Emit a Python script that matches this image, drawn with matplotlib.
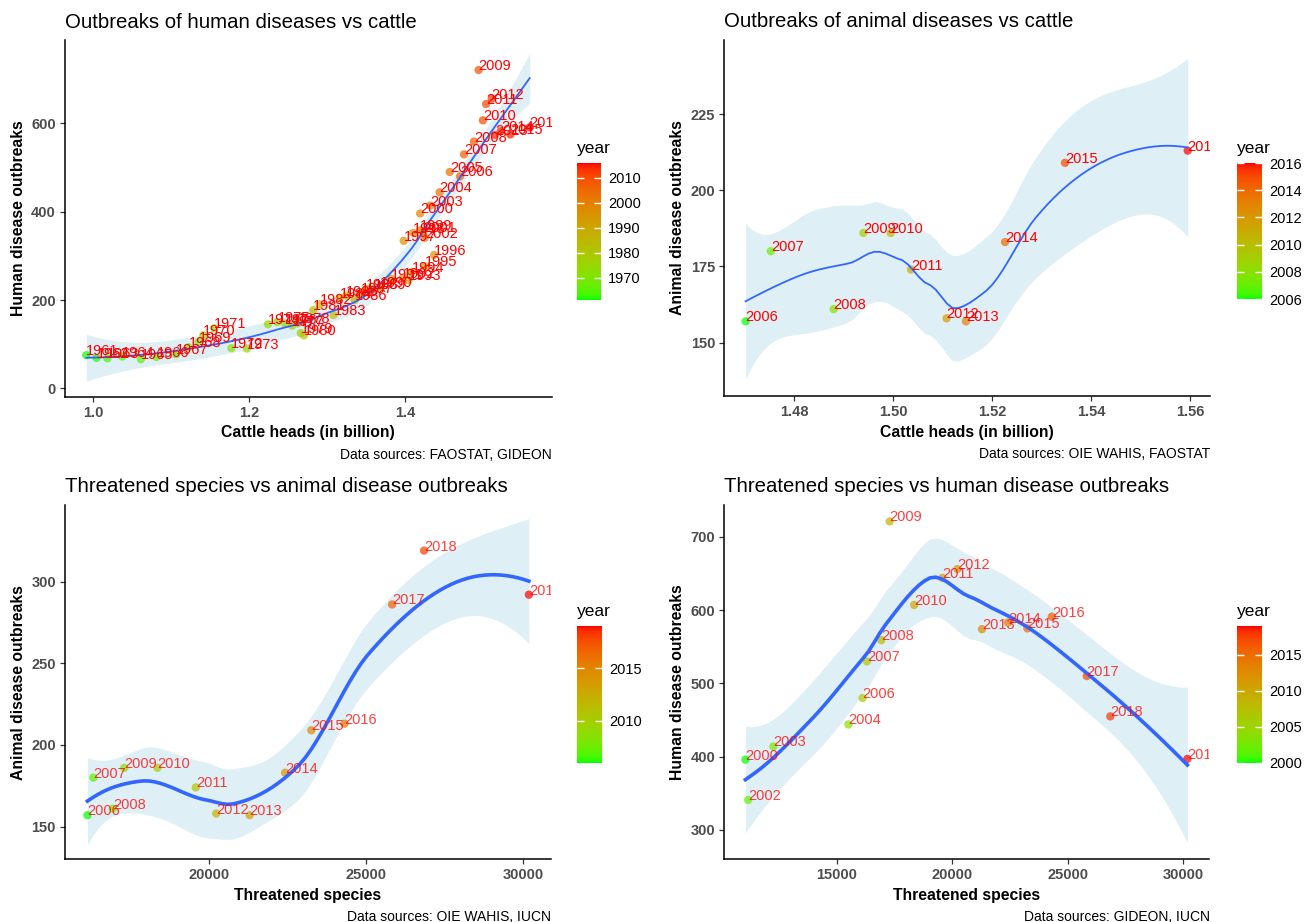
import math
import numpy as np
import matplotlib
matplotlib.use("Agg")
import matplotlib.pyplot as plt
from matplotlib.colors import ListedColormap, Normalize
from matplotlib.cm import ScalarMappable

plt.rcParams["font.family"] = ["Liberation Sans", "DejaVu Sans"]

# ---- data ----
human_years = list(range(1961, 2020))
human_outbreaks = [75, 69, 68, 72, 66, 71, 77, 93, 105, 120,
                   136, 91, 90, 145, 150, 146, 142, 147, 125, 120,
                   177, 190, 166, 205, 210, 200, 215, 225, 225, 230,
                   248, 250, 245, 263, 276, 302, 334, 352, 358, 396,
                   355, 341, 414, 444, 490, 480, 530, 559, 721, 607,
                   644, 656, 574, 583, 575, 591, 510, 455, 397]

cattle_years = list(range(1961, 2017))
cattle_heads = [0.991, 1.004, 1.018, 1.037, 1.061, 1.081, 1.106, 1.122, 1.135, 1.141,
                1.155, 1.177, 1.197, 1.224, 1.236, 1.246, 1.255, 1.262, 1.266, 1.270,
                1.282, 1.290, 1.308, 1.316, 1.324, 1.335, 1.343, 1.350, 1.360, 1.368,
                1.382, 1.397, 1.404, 1.408, 1.425, 1.437, 1.398, 1.410, 1.419, 1.419,
                1.423, 1.425, 1.432, 1.444, 1.457, 1.4702, 1.4753, 1.4880, 1.4940, 1.4995,
                1.5036, 1.5108, 1.5147, 1.5226, 1.5347, 1.5595]

animal_years = list(range(2006, 2020))
animal_outbreaks = [157, 180, 161, 186, 186, 174, 158, 157, 183, 209, 213, 286, 319, 292]

iucn_years = [2000, 2002, 2003, 2004, 2006, 2007, 2008, 2009, 2010,
              2011, 2012, 2013, 2014, 2015, 2016, 2017, 2018, 2019]
threatened = [11046, 11167, 12259, 15503, 16118, 16306, 16928, 17291, 18351,
              19570, 20219, 21286, 22413, 23250, 24307, 25821, 26840, 30178]

human = dict(zip(human_years, human_outbreaks))
cattle = dict(zip(cattle_years, cattle_heads))
animal = dict(zip(animal_years, animal_outbreaks))
species = dict(zip(iucn_years, threatened))


# green -> red gradient interpolated in Lab, like scale_colour_gradient
def _to_lab(rgb):
    c = np.asarray(rgb, float)
    c = np.where(c <= 0.04045, c / 12.92, ((c + 0.055) / 1.055) ** 2.4)
    m = np.array([[0.4124, 0.3576, 0.1805], [0.2126, 0.7152, 0.0722], [0.0193, 0.1192, 0.9505]])
    xyz = m @ c / np.array([0.95047, 1.0, 1.08883])
    f = np.where(xyz > 0.008856, np.cbrt(xyz), 7.787 * xyz + 16 / 116)
    return np.array([116 * f[1] - 16, 500 * (f[0] - f[1]), 200 * (f[1] - f[2])])


def _from_lab(lab):
    L, a, b = lab
    fy = (L + 16) / 116
    f = np.array([fy + a / 500, fy, fy - b / 200])
    xyz = np.where(f ** 3 > 0.008856, f ** 3, (f - 16 / 116) / 7.787) * np.array([0.95047, 1.0, 1.08883])
    mi = np.array([[3.2406, -1.5372, -0.4986], [-0.9689, 1.8758, 0.0415], [0.0557, -0.2040, 1.0570]])
    c = np.clip(mi @ xyz, 0, 1)
    c = np.where(c <= 0.0031308, 12.92 * c, 1.055 * c ** (1 / 2.4) - 0.055)
    return np.clip(c, 0, 1)


lab_lo, lab_hi = _to_lab([0, 1, 0]), _to_lab([1, 0, 0])
gr_cmap = ListedColormap([_from_lab(lab_lo + t * (lab_hi - lab_lo)) for t in np.linspace(0, 1, 256)])


def t_quantile(p, df):
    grid = np.linspace(0, 30, 300001)
    logc = math.lgamma((df + 1) / 2) - math.lgamma(df / 2) - 0.5 * math.log(df * math.pi)
    pdf = np.exp(logc - (df + 1) / 2 * np.log1p(grid ** 2 / df))
    cdf = 0.5 + np.concatenate([[0], np.cumsum((pdf[1:] + pdf[:-1]) / 2 * np.diff(grid))])
    return np.interp(p, cdf, grid)


def loess_band(x, y, span=0.75, cell=0.2, n_out=80):
    # loess (degree 2, tricube) fitted at kd-tree vertices and joined with
    # cubic Hermite pieces, roughly what R's loess(surface="interpolate") does
    x = np.asarray(x, float)
    y = np.asarray(y, float)
    lo, hi = x.min(), x.max()
    xs = np.linspace(lo, hi, n_out)
    z = (x - lo) / (hi - lo)
    zs = (xs - lo) / (hi - lo)
    n = len(z)
    q = int(np.floor(n * span))

    def local(z0):
        d = np.abs(z - z0)
        h = np.sort(d)[q - 1]
        w = np.where(d < h, (1 - (d / h) ** 3) ** 3, 0.0)
        X = np.column_stack([np.ones(n), z - z0, (z - z0) ** 2])
        XtW = X.T * w
        B = np.linalg.solve(XtW @ X, XtW)
        return B[0], B[1]

    zsort = np.sort(z)
    mu = 0.005 * (zsort[-1] - zsort[0])
    verts = [zsort[0] - mu, zsort[-1] + mu]
    fc = int(np.floor(n * span * cell))

    def split(pts):
        if len(pts) <= fc:
            return
        m = (len(pts) + 1) // 2
        verts.append((pts[m - 1] + pts[m]) / 2)
        split(pts[:m])
        split(pts[m:])

    split(zsort)
    verts = np.unique(verts)
    V0, V1 = zip(*[local(v) for v in verts])
    V0, V1 = np.array(V0), np.array(V1)

    def rows(zq):
        out = []
        for v in zq:
            i = min(np.searchsorted(verts, v, side="right") - 1, len(verts) - 2)
            hh = verts[i + 1] - verts[i]
            t = (v - verts[i]) / hh
            out.append((2 * t ** 3 - 3 * t ** 2 + 1) * V0[i] + (t ** 3 - 2 * t ** 2 + t) * hh * V1[i]
                       + (-2 * t ** 3 + 3 * t ** 2) * V0[i + 1] + (t ** 3 - t ** 2) * hh * V1[i + 1])
        return np.array(out)

    L = rows(z)
    R = np.eye(n) - L
    RtR = R.T @ R
    d1 = np.trace(RtR)
    d2 = np.trace(RtR @ RtR)
    sigma = np.sqrt(np.sum((y - L @ y) ** 2) / d1)
    Ls = rows(zs)
    ys = Ls @ y
    se = sigma * np.sqrt(np.sum(Ls ** 2, axis=1))
    t = t_quantile(0.975, d1 ** 2 / d2)
    return xs, ys, ys - t * se, ys + t * se


W, H = 1304, 922
fig = plt.figure(figsize=(W / 100, H / 100), dpi=100)


def px_axes(l, t, r, b):
    return fig.add_axes([l / W, 1 - b / H, (r - l) / W, (b - t) / H])


panels = [
    dict(years=cattle_years, xs=cattle, ys=human,
         title="Outbreaks of human diseases vs cattle",
         xlabel="Cattle heads (in billion)", ylabel="Human disease outbreaks",
         caption="Data sources: FAOSTAT, GIDEON",
         box=(65, 40, 551.7, 396.7), xlim=(0.9637, 1.5877), ylim=(-19, 789),
         xticks=[1.0, 1.2, 1.4], xfmt="{:.1f}", yticks=[0, 200, 400, 600],
         cbox=(577, 163, 601, 300), cticks=[1970, 1980, 1990, 2000, 2010],
         lw=1.3, talpha=1.0),
    dict(years=animal_years[:11], xs=cattle, ys=animal,
         title="Outbreaks of animal diseases vs cattle",
         xlabel="Cattle heads (in billion)", ylabel="Animal disease outbreaks",
         caption="Data sources: OIE WAHIS, FAOSTAT",
         box=(724.3, 40, 1210, 396), xlim=(1.4659, 1.564), ylim=(132.5, 249.3),
         xticks=[1.48, 1.50, 1.52, 1.54, 1.56], xfmt="{:.2f}", yticks=[150, 175, 200, 225],
         cbox=(1237, 163, 1262, 299), cticks=[2006, 2008, 2010, 2012, 2014, 2016],
         lw=1.3, talpha=1.0),
    dict(years=animal_years, xs=species, ys=animal,
         title="Threatened species vs animal disease outbreaks",
         xlabel="Threatened species", ylabel="Animal disease outbreaks",
         caption="Data sources: OIE WAHIS, IUCN",
         box=(65, 505, 551, 859.3), xlim=(15404, 30882), ylim=(130.0, 346.9),
         xticks=[20000, 25000, 30000], xfmt="{:.0f}", yticks=[150, 200, 250, 300],
         cbox=(577, 626, 602, 762.7), cticks=[2010, 2015],
         lw=2.6, talpha=0.75),
    dict(years=iucn_years, xs=species, ys=human,
         title="Threatened species vs human disease outbreaks",
         xlabel="Threatened species", ylabel="Human disease outbreaks",
         caption="Data sources: GIDEON, IUCN",
         box=(724.3, 505, 1209.5, 859.3), xlim=(10134, 31134), ylim=(260, 743.4),
         xticks=[15000, 20000, 25000, 30000], xfmt="{:.0f}", yticks=[300, 400, 500, 600, 700],
         cbox=(1237, 626, 1262, 762.7), cticks=[2000, 2005, 2010, 2015],
         lw=2.6, talpha=0.75),
]

for p in panels:
    yrs = p["years"]
    x = np.array([p["xs"][yr] for yr in yrs])
    y = np.array([p["ys"][yr] for yr in yrs])
    ax = px_axes(*p["box"])
    norm = Normalize(min(yrs), max(yrs))

    sx, sy, lo, hi = loess_band(x, y)
    ax.fill_between(sx, lo, hi, color="#ADD8E6", alpha=0.4, lw=0, zorder=1)
    ax.scatter(x, y, c=yrs, cmap=gr_cmap, norm=norm, s=36, alpha=0.7,
               edgecolors="none", zorder=2)
    ax.plot(sx, sy, color="#3366FF", lw=p["lw"], zorder=3)
    for xi, yi, yr in zip(x, y, yrs):
        ax.text(xi, yi, str(yr), color="red", alpha=p["talpha"], fontsize=10.5,
                ha="left", va="baseline", clip_on=True, zorder=4)

    ax.set_xlim(*p["xlim"])
    ax.set_ylim(*p["ylim"])
    ax.set_xticks(p["xticks"])
    ax.set_xticklabels([p["xfmt"].format(v) for v in p["xticks"]])
    ax.set_yticks(p["yticks"])
    for s in ["top", "right"]:
        ax.spines[s].set_visible(False)
    for s in ["left", "bottom"]:
        ax.spines[s].set_linewidth(1.1)
        ax.spines[s].set_color("black")
    ax.tick_params(length=3.5, width=0.9, color="#333333", labelcolor="#4D4D4D",
                   labelsize=10.5, pad=3)
    for lab in ax.get_xticklabels() + ax.get_yticklabels():
        lab.set_fontweight("bold")
    ax.set_xlabel(p["xlabel"], fontsize=11.3, fontweight="bold", labelpad=4)
    ax.set_ylabel(p["ylabel"], fontsize=11.3, fontweight="bold", labelpad=4)
    ax.set_title(p["title"], loc="left", fontsize=14.7, pad=9)
    l, t, r, b = p["box"]
    fig.text(r / W, 1 - (b + 58) / H, p["caption"], ha="right", va="center", fontsize=10)

    cax = px_axes(*p["cbox"])
    cb = fig.colorbar(ScalarMappable(norm=norm, cmap=gr_cmap), cax=cax)
    cb.outline.set_visible(False)
    cb.set_ticks(p["cticks"])
    cax.tick_params(direction="in", length=5, width=1, color="white", left=True, right=True,
                    labelleft=False, labelright=True, labelsize=10.5, pad=5)
    cax.text(0, 1.05, "year", transform=cax.transAxes, ha="left", va="bottom", fontsize=12.5)

fig.savefig("out.png", dpi=100)
